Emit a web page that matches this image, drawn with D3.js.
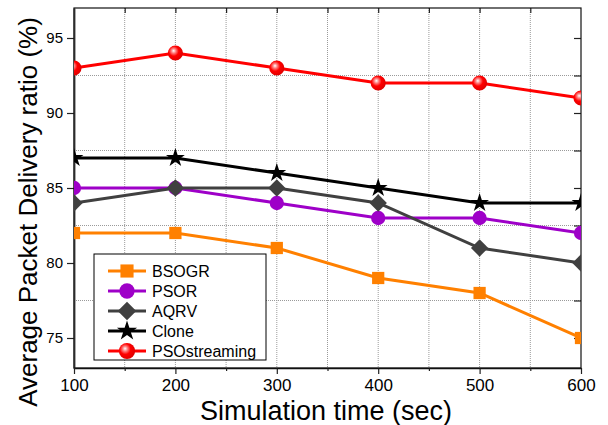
<!DOCTYPE html>
<html>
<head>
<meta charset="utf-8">
<script src="https://cdn.jsdelivr.net/npm/d3@7"></script>
<style>
  body { margin: 0; background: #fff; }
  svg text { font-family: "Liberation Sans", Arial, sans-serif; }
</style>
</head>
<body>
<div id="chart"></div>
<script>
// simulation time (sec)
const times = [100, 200, 300, 400, 500, 600];
const bsogr = [82, 82, 81, 79, 78, 75];
const psor = [85, 85, 84, 83, 83, 82];
const aqrv = [84, 85, 85, 84, 81, 80];
const clone = [87, 87, 86, 85, 84, 84];
const psoStreaming = [93, 94, 93, 92, 92, 91];

const seriesNames = ['BSOGR', 'PSOR', 'AQRV', 'Clone', 'PSOstreaming'];
const seriesValues = [bsogr, psor, aqrv, clone, psoStreaming];
const xTicks = [100, 200, 300, 400, 500, 600];
const yTicks = [75, 80, 85, 90, 95];

const colors = ['#ff8000', '#9e00c8', '#404040', '#000000', '#ff0000'];
// diamond = square turned 45 degrees
const shapes = [d3.symbolSquare, d3.symbolCircle, d3.symbolSquare, d3.symbolStar, d3.symbolCircle];
const rotations = [0, 0, 45, 0, 0];
const sizes = [150, 160, 150, 110, 180];

const W = 608, H = 425;
const pLeft = 74, pRight = 581, pTop = 8, pBottom = 368;

const svg = d3.select('#chart').append('svg')
    .attr('width', W)
    .attr('height', H);

const defs = svg.append('defs');
defs.append('clipPath').attr('id', 'plotClip')
    .append('rect')
    .attr('x', pLeft).attr('y', pTop)
    .attr('width', pRight - pLeft).attr('height', pBottom - pTop);

// shiny red ball for PSOstreaming
const grad = defs.append('radialGradient').attr('id', 'redBall')
    .attr('cx', '40%').attr('cy', '40%').attr('r', '60%')
    .attr('fx', '38%').attr('fy', '35%');
grad.append('stop').attr('offset', '0%').attr('stop-color', '#ffffff');
grad.append('stop').attr('offset', '25%').attr('stop-color', '#ff8080');
grad.append('stop').attr('offset', '55%').attr('stop-color', '#ff0000');
grad.append('stop').attr('offset', '100%').attr('stop-color', '#e00000');

const x = d3.scaleLinear().domain([100, 600]).range([pLeft, pRight]);
const y = d3.scaleLinear().domain([73, 97]).range([pBottom, pTop]);

// grid (dotted)
const grid = svg.append('g');
grid.selectAll('.vg')
    .data(d3.range(150, 600, 50))
    .enter().append('line')
    .attr('x1', d => x(d)).attr('x2', d => x(d))
    .attr('y1', pTop).attr('y2', pBottom)
    .attr('stroke', '#9a9a9a')
    .attr('stroke-dasharray', '1,1');
grid.selectAll('.hg')
    .data([77.5, 82.5, 87.5, 92.5])
    .enter().append('line')
    .attr('x1', pLeft).attr('x2', pRight)
    .attr('y1', d => y(d)).attr('y2', d => y(d))
    .attr('stroke', '#9a9a9a')
    .attr('stroke-dasharray', '1,1');

// axes
const xAxis = svg.append('g')
    .attr('transform', `translate(0,${pBottom})`)
    .call(d3.axisBottom(x).tickValues(xTicks).tickSize(6).tickPadding(5).tickSizeOuter(0));
xAxis.selectAll('text').attr('font-size', 17).attr('fill', '#000');

const yAxis = svg.append('g')
    .attr('transform', `translate(${pLeft},0)`)
    .call(d3.axisLeft(y).tickValues(yTicks).tickSize(7).tickPadding(4).tickSizeOuter(0));
yAxis.selectAll('text').attr('font-size', 15).attr('fill', '#000');

const xMinor = svg.append('g')
    .attr('transform', `translate(0,${pBottom})`)
    .call(d3.axisBottom(x).tickValues(d3.range(150, 600, 100)).tickSize(3).tickFormat(''));
const topAxis = svg.append('g')
    .attr('transform', `translate(0,${pTop})`)
    .call(d3.axisBottom(x).tickValues(d3.range(150, 600, 50)).tickSize(5).tickFormat('').tickSizeOuter(0));
const rightAxis = svg.append('g')
    .attr('transform', `translate(${pRight},0)`)
    .call(d3.axisLeft(y).tickValues([75, 77.5, 80, 82.5, 85, 87.5, 90, 92.5, 95]).tickSize(7).tickFormat('').tickSizeOuter(0));

[xMinor, topAxis, rightAxis].forEach(g => g.select('.domain').remove());
svg.selectAll('.tick line').attr('stroke', '#222').attr('stroke-width', 1.2);

// frame
svg.append('rect')
    .attr('x', pLeft).attr('y', pTop)
    .attr('width', pRight - pLeft).attr('height', pBottom - pTop)
    .attr('fill', 'none').attr('stroke', '#111').attr('stroke-width', 1.2);
xAxis.select('.domain').attr('stroke', '#111').attr('stroke-width', 1.5);
yAxis.select('.domain').attr('stroke', '#555').attr('stroke-width', 2);

// series
const plot = svg.append('g').attr('clip-path', 'url(#plotClip)');
const line = d3.line().x((d, i) => x(times[i])).y(d => y(d));

seriesValues.forEach((vals, s) => {
    const g = plot.append('g');
    g.append('path')
        .datum(vals)
        .attr('d', line)
        .attr('fill', 'none')
        .attr('stroke', colors[s])
        .attr('stroke-width', 3);
    g.selectAll('path.m')
        .data(vals)
        .enter().append('path')
        .attr('class', 'm')
        .attr('transform', (d, i) => `translate(${x(times[i])},${y(d)}) rotate(${rotations[s]})`)
        .attr('d', d3.symbol().type(shapes[s]).size(sizes[s]))
        .attr('fill', s === 4 ? 'url(#redBall)' : colors[s]);
});

// legend
const legend = svg.append('g');
legend.append('rect')
    .attr('x', 94).attr('y', 254)
    .attr('width', 172).attr('height', 106)
    .attr('fill', '#fff').attr('stroke', '#000').attr('stroke-width', 1);
seriesNames.forEach((name, s) => {
    const ly = 271 + s * 20;
    legend.append('line')
        .attr('x1', 108).attr('x2', 146)
        .attr('y1', ly).attr('y2', ly)
        .attr('stroke', colors[s]).attr('stroke-width', 3);
    legend.append('path')
        .attr('transform', `translate(127,${ly}) rotate(${rotations[s]})`)
        .attr('d', d3.symbol().type(shapes[s]).size(sizes[s] * 1.15))
        .attr('fill', s === 4 ? 'url(#redBall)' : colors[s]);
    legend.append('text')
        .attr('x', 152).attr('y', ly + 6)
        .attr('font-size', 16)
        .text(name);
});

// axis titles
svg.append('text')
    .attr('x', 326).attr('y', 420)
    .attr('text-anchor', 'middle')
    .attr('font-size', 27)
    .text('Simulation time (sec)');
svg.append('text')
    .attr('transform', 'translate(37,212) rotate(-90)')
    .attr('text-anchor', 'middle')
    .attr('font-size', 26)
    .text('Average Packet Delivery ratio (%)');
</script>
</body>
</html>
